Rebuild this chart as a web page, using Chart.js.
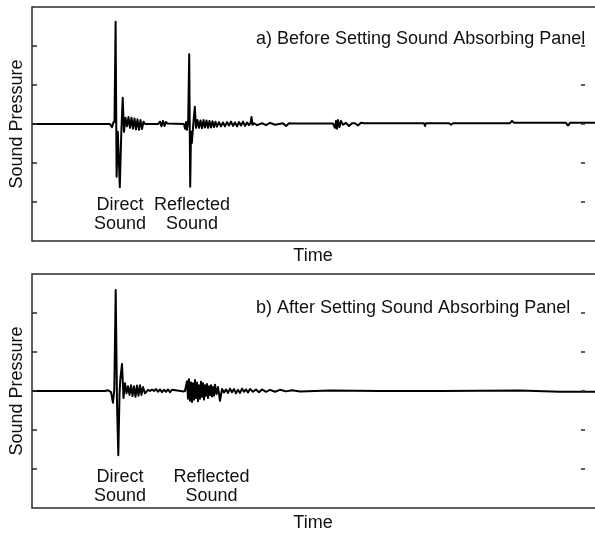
<!DOCTYPE html>
<html>
<head>
<meta charset="utf-8">
<script src="https://cdn.jsdelivr.net/npm/chart.js@4.4.1/dist/chart.umd.min.js"></script>
<style>
    body { margin: 0; background: #fff; }
    .panel { position: absolute; left: 0; }
    #panelA { top: 0; }
    #panelB { top: 266px; }
</style>
</head>
<body>
<canvas id="panelA" class="panel" width="595" height="266"></canvas>
<canvas id="panelB" class="panel" width="595" height="267"></canvas>
<script>
// valeurs (temps en unités arbitraires, pression en graduations)
const timeA = [0, 78, 80, 81.5, 82.5, 83.6, 84.6, 85.8, 87.8, 89.2, 90.7, 92,
    93.5, 95, 96.5, 98, 99.5, 101, 102.5, 104, 105.5, 107, 108.5, 110, 111.5, 113,
    126, 128, 129.5, 131, 132.5, 134, 135.5,
    152, 153, 154, 155, 156.2, 157.2, 158.2, 159, 159.8, 161, 162.8, 164,
    165.5, 167, 168.5, 170, 171.5, 173, 174.5, 176, 177.5, 179, 180.5, 182, 183.5, 185, 187, 189,
    191, 193, 195, 197, 199, 201, 203, 205, 207, 209, 211, 213, 215, 217, 218.5, 219.5, 220.5, 222,
    225, 230, 234, 238, 243, 251, 254, 257, 260,
    301, 303, 304, 305, 306, 307.5, 309, 311, 314, 317, 320, 323, 326, 329, 332,
    392, 393, 394, 417, 419, 421, 478, 480, 482, 534, 536, 538, 563];
const pressureA = [0, 0, -0.08, 0.05, 0.05, 2.62, -1.35, -0.2, -1.62, -0.3, 0.67, -0.2,
    0.16, -0.06, 0.18, -0.1, 0.16, -0.12, 0.14, -0.14, 0.12, -0.15, 0.1, -0.13, 0.06, 0,
    0, 0.06, -0.06, 0.08, -0.05, 0.05, 0.01,
    0, -0.12, 0.05, -0.15, 0.1, 1.79, -1.61, -0.2, -0.49, -0.1, 0.44, -0.1,
    0.1, -0.1, 0.09, -0.11, 0.1, -0.09, 0.09, -0.1, 0.08, -0.09, 0.07, -0.08, 0.06, -0.07, 0.05, -0.06,
    0.04, -0.06, 0.05, -0.04, 0.06, -0.05, 0.04, -0.06, 0.05, -0.04, 0.06, -0.05, 0.04, -0.03, 0.02, 0.18, -0.02, 0.02,
    -0.03, 0.02, -0.03, 0.03, -0.02, 0.02, -0.05, 0.02, 0.01,
    0.01, -0.1, 0.08, -0.12, 0.1, -0.08, 0.08, -0.02, 0.03, -0.05, 0.02, 0.02, -0.04, 0.03, 0.02,
    0.02, -0.05, 0.02, 0.02, -0.02, 0.02, 0.02, 0.08, 0.03, 0.03, -0.04, 0.03, 0.03];

const timeB = [0, 73, 76, 79, 81, 82.3, 83.7, 85, 86.3, 87.5, 88.3, 90, 91.5,
    93, 94.5, 96, 97.5, 99, 100.5, 102, 103.5, 105, 106.5, 108, 109.5, 111, 113,
    116, 118, 120, 122, 124, 126, 128, 130, 132, 134, 136, 138, 140, 152,
    153, 154, 155, 156, 157, 158, 159, 160, 161, 162, 163, 164, 165, 166, 167, 168, 169, 170, 171, 172,
    173, 174, 175, 176, 177, 178, 179, 180, 181, 182, 183, 184.5, 186, 188,
    190, 192, 194, 196, 198, 200, 202, 204, 206, 208, 210, 212, 214, 216, 218, 221, 224, 227, 230, 234, 238, 243, 248, 254, 260, 268,
    298, 348, 408, 488, 528, 563];
const pressureB = [0, 0, 0.02, -0.03, -0.3, 0.05, 2.59, -0.3, -1.65, -0.1, 0.3, 0.69, -0.18,
    0.2, -0.06, 0.12, -0.1, 0.15, -0.13, 0.12, -0.15, 0.14, -0.12, 0.15, -0.1, 0.1, -0.06, 0.03, 0,
    0.04, 0, 0.05, -0.02, 0.04, -0.03, 0.03, -0.02, 0.04, -0.03, 0.03, -0.01, 0, 0,
    0.25, -0.2, 0.3, -0.25, 0.22, -0.28, 0.2, -0.22, 0.28, -0.18, 0.22, -0.26, 0.15, -0.2, 0.24, -0.15, 0.2, -0.22, 0.15, -0.12,
    0.18, -0.18, 0.12, -0.1, 0.15, -0.14, 0.1, -0.12, 0.16, -0.08, 0.1, -0.25, 0.05, -0.04,
    0.04, -0.05, 0.06, -0.03, 0.05, -0.06, 0.03, -0.05, 0.06, -0.02, 0.04, -0.04, 0.05, -0.02, 0.04, -0.03, 0.04, -0.02, 0.03, -0.02, 0.03, -0.01, 0.02, -0.01, 0.01, 0,
    0, 0.01, -0.02, -0.02, 0.01, 0.02];

const yTicks = [-2, -1, 0, 1, 2];
const titleA = 'a) Before Setting Sound Absorbing Panel';
const titleB = 'b) After Setting Sound Absorbing Panel';
const xTitle = 'Time';
const yTitle = 'Sound Pressure';
const labelDirect = ['Direct', 'Sound'];
const labelReflected = ['Reflected', 'Sound'];

const font = '18px "Liberation Sans", Arial, sans-serif';

function toPoints(times, values) {
    return times.map((t, i) => ({ x: t, y: values[i] }));
}

// cadre, graduations et textes de chaque panneau
function panelDecor(opts) {
    return {
        id: 'decor',
        afterDraw(chart) {
            const c = chart.ctx;
            const a = chart.chartArea;
            const y = chart.scales.y;
            c.save();
            c.strokeStyle = '#2a2a2a';
            c.lineWidth = 1.5;
            c.beginPath();
            c.moveTo(a.right, a.top);
            c.lineTo(a.left, a.top);
            c.lineTo(a.left, a.bottom);
            c.lineTo(a.right, a.bottom);
            yTicks.forEach(v => {
                const py = y.getPixelForValue(v);
                c.moveTo(a.left, py);
                c.lineTo(a.left + 5, py);
                c.moveTo(a.right - 14, py);
                c.lineTo(a.right - 10, py);
            });
            c.stroke();

            c.fillStyle = '#111';
            c.font = font;
            c.textBaseline = 'alphabetic';
            c.textAlign = 'left';
            c.fillText(opts.title, 256, opts.titleY);
            c.textAlign = 'center';
            c.fillText(xTitle, 313, a.bottom + 20);
            c.fillText(labelDirect[0], 120, opts.labelY);
            c.fillText(labelDirect[1], 120, opts.labelY + 19);
            c.fillText(labelReflected[0], opts.reflX, opts.labelY);
            c.fillText(labelReflected[1], opts.reflX, opts.labelY + 19);

            c.translate(21.5, (a.top + a.bottom) / 2);
            c.rotate(-Math.PI / 2);
            c.fillText(yTitle, 0, 0);
            c.restore();
        }
    };
}

function makePanel(el, times, values, padding, decor) {
    return new Chart(el, {
        type: 'line',
        data: {
            datasets: [{
                data: toPoints(times, values),
                borderColor: '#000',
                borderWidth: 2,
                borderJoinStyle: 'round',
                pointRadius: 0,
                tension: 0
            }]
        },
        options: {
            responsive: false,
            animation: false,
            layout: { padding: padding },
            plugins: { legend: { display: false }, tooltip: { enabled: false } },
            scales: {
                x: { type: 'linear', min: 0, max: 563, display: false },
                y: { min: -3, max: 3, display: false }
            }
        },
        plugins: [panelDecor(decor)]
    });
}

makePanel(document.getElementById('panelA'), timeA, pressureA,
    { top: 7, left: 32, right: 0, bottom: 25 },
    { title: titleA, titleY: 44, labelY: 210, reflX: 192 });

makePanel(document.getElementById('panelB'), timeB, pressureB,
    { top: 8, left: 32, right: 0, bottom: 25 },
    { title: titleB, titleY: 47, labelY: 216, reflX: 211.5 });
</script>
</body>
</html>
